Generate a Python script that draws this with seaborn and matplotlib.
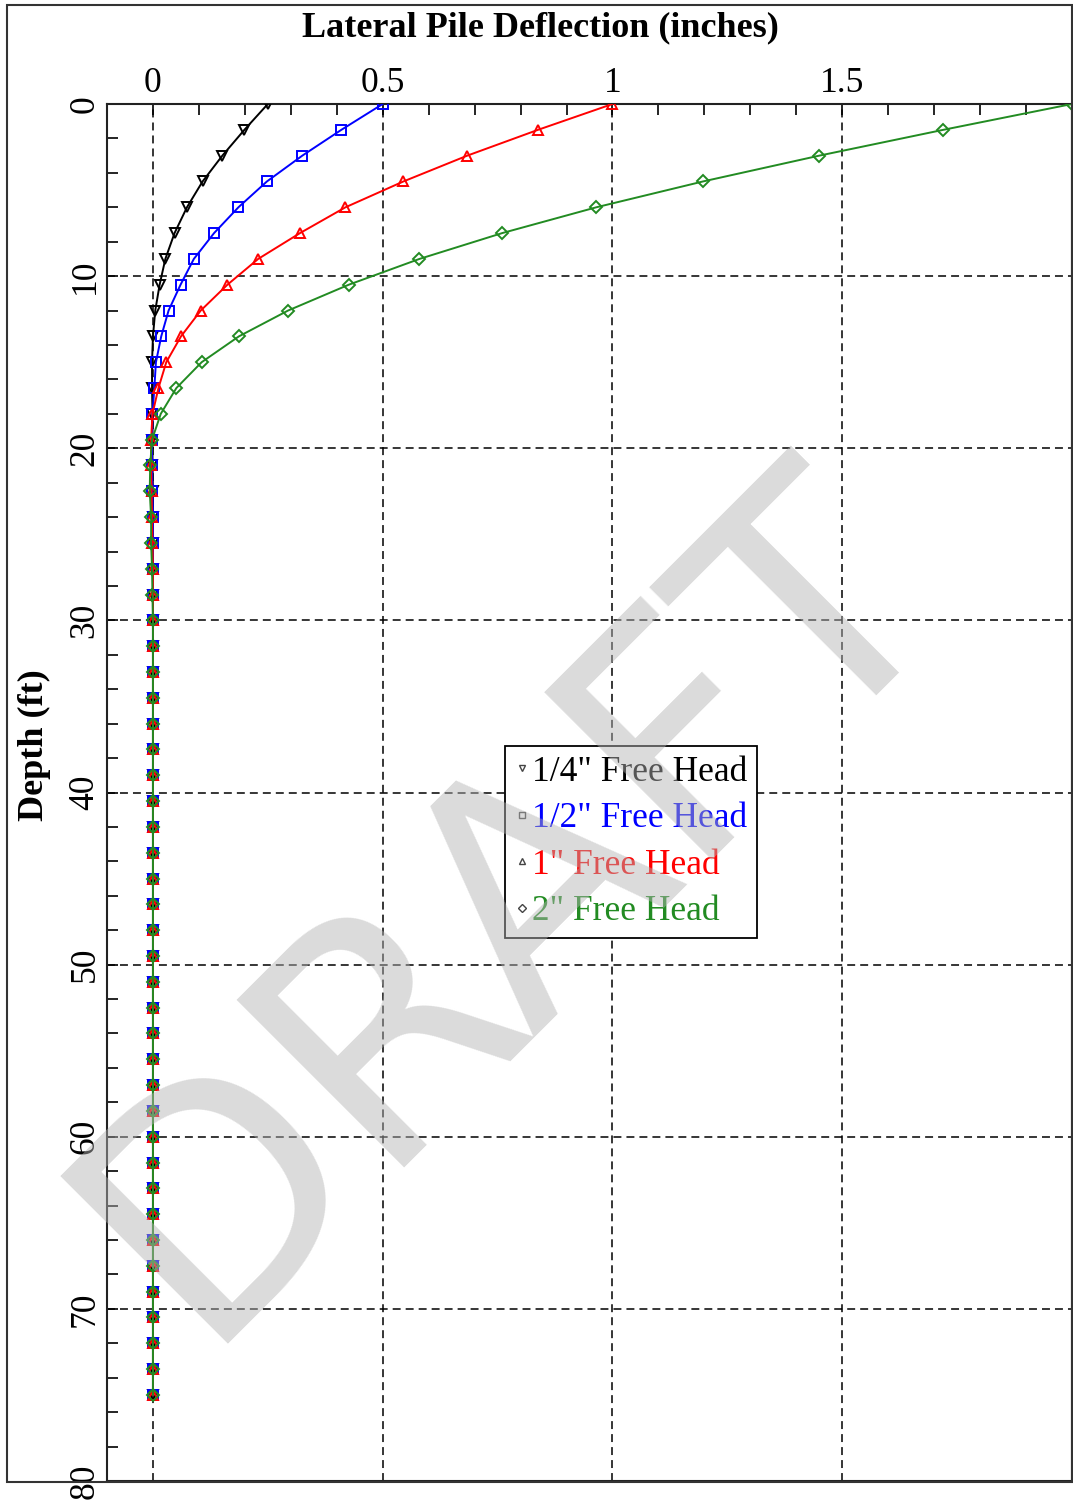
import pandas as pd
import seaborn as sns
import matplotlib.pyplot as plt
from matplotlib.lines import Line2D
from matplotlib.patches import Rectangle
from matplotlib.ticker import MultipleLocator
from matplotlib import font_manager

# depth below pile head (ft)
depth_ft = [0, 1.5, 3, 4.5, 6, 7.5, 9, 10.5, 12, 13.5,
            15, 16.5, 18, 19.5, 21, 22.5, 24, 25.5, 27, 28.5,
            30, 31.5, 33, 34.5, 36, 37.5, 39, 40.5, 42, 43.5,
            45, 46.5, 48, 49.5, 51, 52.5, 54, 55.5, 57, 58.5,
            60, 61.5, 63, 64.5, 66, 67.5, 69, 70.5, 72, 73.5, 75]

# lateral deflection (inches)
defl_quarter = [0.25, 0.199, 0.151, 0.108, 0.074, 0.047, 0.027, 0.0145, 0.005, 0.0,
                -0.002, -0.002, -0.001, -0.001, -0.001, 0, 0, 0, 0, 0,
                0, 0, 0, 0, 0, 0, 0, 0, 0, 0,
                0, 0, 0, 0, 0, 0, 0, 0, 0, 0,
                0, 0, 0, 0, 0, 0, 0, 0, 0, 0, 0]
defl_half = [0.5, 0.41, 0.325, 0.248, 0.186, 0.133, 0.089, 0.06, 0.034, 0.018,
             0.0065, 0.003, -0.001, -0.002, -0.002, -0.001, 0, 0, 0, 0,
             0, 0, 0, 0, 0, 0, 0, 0, 0, 0,
             0, 0, 0, 0, 0, 0, 0, 0, 0, 0,
             0, 0, 0, 0, 0, 0, 0, 0, 0, 0, 0]
defl_one = [1.0, 0.838, 0.684, 0.545, 0.419, 0.32, 0.229, 0.162, 0.104, 0.061,
            0.029, 0.012, -0.001, -0.004, -0.004, -0.003, -0.002, -0.001, 0, 0,
            0, 0, 0, 0, 0, 0, 0, 0, 0, 0,
            0, 0, 0, 0, 0, 0, 0, 0, 0, 0,
            0, 0, 0, 0, 0, 0, 0, 0, 0, 0, 0]
defl_two = [2.0, 1.72, 1.45, 1.197, 0.965, 0.76, 0.58, 0.426, 0.294, 0.187,
            0.106, 0.051, 0.017, -0.002, -0.006, -0.007, -0.004, -0.004, -0.002, -0.001,
            0, 0, 0, 0, 0, 0, 0, 0, 0, 0,
            0, 0, 0, 0, 0, 0, 0, 0, 0, 0,
            0, 0, 0, 0, 0, 0, 0, 0, 0, 0, 0]

labels = ['1/4" Free Head', '1/2" Free Head', '1" Free Head', '2" Free Head']
colors = ['#000000', '#0000ff', '#ff0000', '#228b22']
markers = ['v', 's', '^', 'D']
x_ticks = [0, 0.5, 1, 1.5]
x_ticklabels = ['0', '0.5', '1', '1.5']
y_ticks = [0, 10, 20, 30, 40, 50, 60, 70, 80]

sns.set_theme(style='white')
plt.rcParams['font.family'] = ['Liberation Serif', 'DejaVu Serif']
FS = 25.5

fig = plt.figure(figsize=(10.73, 15.05), dpi=100)
ax = fig.add_axes([107 / 1073, 1 - 1481 / 1505, 965 / 1073, 1377 / 1505])

all_defl = [defl_quarter, defl_half, defl_one, defl_two]
for vals, c, m in zip(all_defl, colors, markers):
    df = pd.DataFrame({'deflection': vals, 'depth': depth_ft})
    sns.lineplot(data=df, x='deflection', y='depth', orient='y', sort=False,
                 estimator=None, color=c, lw=1.4, marker=m,
                 ms=5.8 if m == 'D' else 6.5, mfc='none', mec=c, mew=1.4,
                 ax=ax, legend=False, zorder=3)

ax.set_xlim(-0.1, 2.0)
ax.set_ylim(80, 0)
ax.xaxis.tick_top()
ax.xaxis.set_label_position('top')
ax.set_xticks(x_ticks)
ax.set_xticklabels(x_ticklabels, fontsize=FS)
ax.xaxis.set_minor_locator(MultipleLocator(0.1))
ax.set_yticks(y_ticks)
ax.set_yticklabels([str(v) for v in y_ticks], fontsize=FS)
ax.yaxis.set_minor_locator(MultipleLocator(2))
ax.tick_params(which='both', direction='in', length=8, width=1.2, color='black',
               top=True, bottom=False, left=True, right=False)
ax.tick_params(axis='x', which='major', pad=3, labelcolor='black')
ax.tick_params(axis='y', which='major', pad=4, labelcolor='black')
for t in ax.get_yticklabels():
    t.set_rotation(90)
    t.set_va('center')

ax.grid(which='major', color='black', linestyle=(0, (5.2, 3.3)), linewidth=1.1)
ax.set_axisbelow(True)
for s in ax.spines.values():
    s.set_color('#222222')
    s.set_linewidth(1.5)

ax.set_xlabel('Lateral Pile Deflection (inches)', fontsize=26, fontweight='bold',
              color='black')
ax.xaxis.label.set_va('center')
ax.xaxis.set_label_coords(0.449, 1.055)
ax.set_ylabel('Depth (ft)', fontsize=26, fontweight='bold', color='black')
ax.yaxis.label.set_va('center')
ax.yaxis.set_label_coords(-0.0747, 0.5345)

handles = [Line2D([], [], ls='none', marker=m, ms=4.5, mfc='none', mec='#444444', mew=1.0)
           for m in markers]
leg = ax.legend(handles, labels, loc='center', bbox_to_anchor=(0.543, 0.464),
                frameon=True, fancybox=False, edgecolor='black', framealpha=1,
                fontsize=FS, handlelength=0.4, handletextpad=0.1, borderpad=0.27,
                labelspacing=0.38, borderaxespad=0, labelcolor=colors)
leg.get_frame().set_linewidth(1.3)

# outer frame
fig.add_artist(Rectangle((7 / 1073, 1 - 1482 / 1505), 1065 / 1073, 1477 / 1505,
                         transform=fig.transFigure, fill=False,
                         edgecolor='#333333', lw=1.5, zorder=5))

# DRAFT watermark, kept inside the figure
names = {f.name for f in font_manager.fontManager.ttflist}
if 'Liberation Sans Narrow' in names:
    wm_family, wm_size = 'Liberation Sans Narrow', 280
else:
    wm_family, wm_size = 'DejaVu Sans', 234
fig.text(0.475, 0.399, 'DRAFT', rotation=45, rotation_mode='anchor',
         ha='center', va='center', fontsize=wm_size, family=wm_family,
         color='#b4b4b4', alpha=0.48, zorder=10)

fig.savefig('out.png', dpi=100)
